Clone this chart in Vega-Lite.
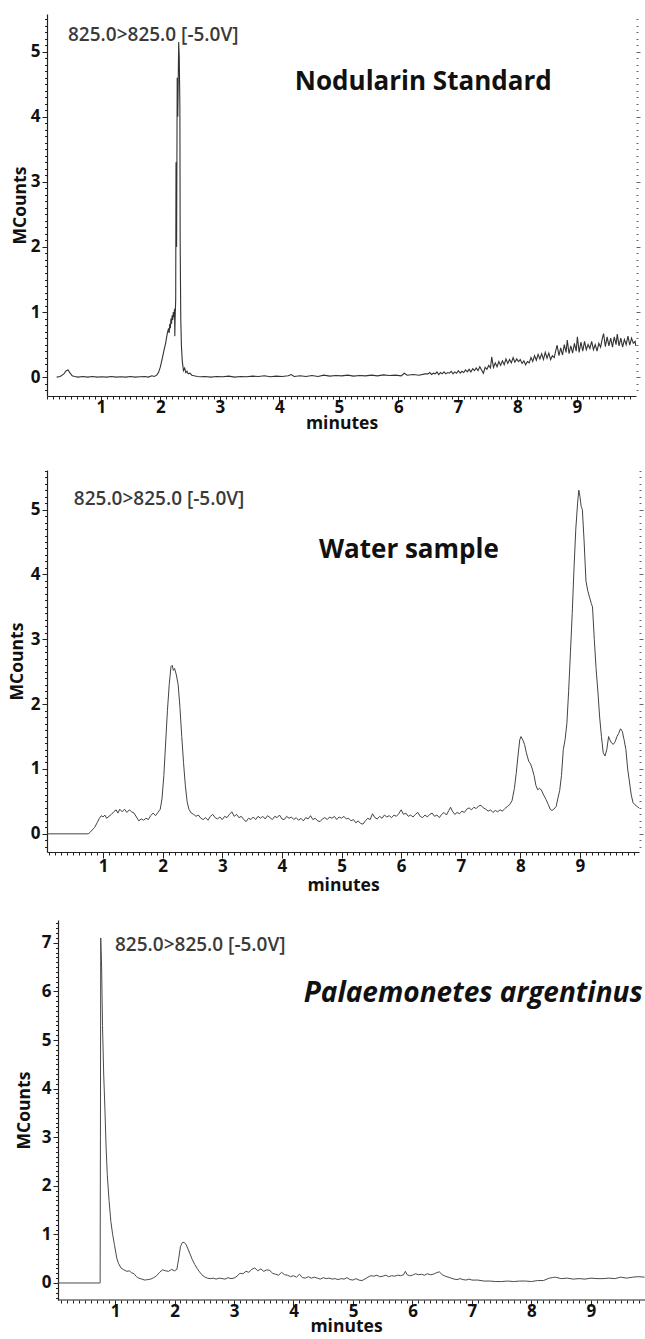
{
"$schema": "https://vega.github.io/schema/vega-lite/v6.json",
"padding": {"left": 8, "top": 10, "right": 0, "bottom": 0},
"background": "white",
"datasets": {
"nod": [
{"t":0.26,"v":0},{"t":0.32,"v":0.01},{"t":0.38,"v":0.05},{"t":0.42,"v":0.1},{"t":0.45,"v":0.11},{"t":0.48,"v":0.07},{"t":0.52,"v":0.02},{"t":0.56,"v":0.01},{"t":0.62,"v":0},{"t":0.7,"v":0.01},{"t":0.78,"v":0},{"t":0.86,"v":0.01},{"t":0.94,"v":0},{"t":1.02,"v":0.005},{"t":1.1,"v":0},{"t":1.18,"v":0.01},{"t":1.26,"v":0},{"t":1.34,"v":0.005},{"t":1.42,"v":0},{"t":1.5,"v":0.01},{"t":1.58,"v":0},{"t":1.66,"v":0.005},{"t":1.74,"v":0.01},{"t":1.8,"v":0},{"t":1.86,"v":0.02},{"t":1.9,"v":0.01},{"t":1.94,"v":0.03},{"t":1.97,"v":0.07},{"t":2.0,"v":0.15},{"t":2.03,"v":0.27},{"t":2.06,"v":0.4},{"t":2.09,"v":0.52},{"t":2.12,"v":0.68},{"t":2.14,"v":0.75},{"t":2.15,"v":0.68},{"t":2.16,"v":0.82},{"t":2.17,"v":0.75},{"t":2.18,"v":0.9},{"t":2.19,"v":0.82},{"t":2.2,"v":0.95},{"t":2.21,"v":0.88},{"t":2.22,"v":1.0},{"t":2.23,"v":0.92},{"t":2.24,"v":1.05},{"t":2.245,"v":0.63},{"t":2.25,"v":0.9},{"t":2.26,"v":1.2},{"t":2.265,"v":3.3},{"t":2.275,"v":2.0},{"t":2.285,"v":4.6},{"t":2.295,"v":4.0},{"t":2.31,"v":5.15},{"t":2.32,"v":4.9},{"t":2.33,"v":4.15},{"t":2.335,"v":2.05},{"t":2.345,"v":0.9},{"t":2.355,"v":0.5},{"t":2.37,"v":0.25},{"t":2.39,"v":0.1},{"t":2.41,"v":0.14},{"t":2.43,"v":0.07},{"t":2.45,"v":0.09},{"t":2.47,"v":0.05},{"t":2.5,"v":0.06},{"t":2.53,"v":0.03},{"t":2.57,"v":0.02},{"t":2.62,"v":0.01},{"t":2.68,"v":0.005},
{"t":2.75,"v":0.01},{"t":2.85,"v":0},{"t":2.95,"v":0.01},{"t":3.05,"v":0.005},{"t":3.15,"v":0.015},{"t":3.25,"v":0},{"t":3.35,"v":0.01},{"t":3.45,"v":0.005},{"t":3.55,"v":0.015},{"t":3.65,"v":0.01},{"t":3.75,"v":0.02},{"t":3.85,"v":0.005},{"t":3.95,"v":0.015},{"t":4.05,"v":0.01},{"t":4.15,"v":0.02},{"t":4.2,"v":0.04},{"t":4.25,"v":0.01},{"t":4.35,"v":0.02},{"t":4.45,"v":0.01},{"t":4.55,"v":0.025},{"t":4.65,"v":0.01},{"t":4.75,"v":0.03},{"t":4.85,"v":0.015},{"t":4.95,"v":0.025},{"t":5.05,"v":0.02},{"t":5.15,"v":0.03},{"t":5.25,"v":0.015},{"t":5.35,"v":0.025},{"t":5.45,"v":0.02},{"t":5.55,"v":0.03},{"t":5.65,"v":0.02},{"t":5.75,"v":0.035},{"t":5.85,"v":0.025},{"t":5.95,"v":0.03},{"t":6.05,"v":0.02},{"t":6.1,"v":0.06},{"t":6.15,"v":0.03},{"t":6.25,"v":0.04},{"t":6.35,"v":0.03},{"t":6.45,"v":0.05},
{"t":6.5,"v":0.05},{"t":6.53,"v":0.07},{"t":6.56,"v":0.04},{"t":6.59,"v":0.06},{"t":6.62,"v":0.05},{"t":6.65,"v":0.08},{"t":6.68,"v":0.04},{"t":6.71,"v":0.07},{"t":6.74,"v":0.05},{"t":6.77,"v":0.08},{"t":6.8,"v":0.05},{"t":6.83,"v":0.07},{"t":6.86,"v":0.06},{"t":6.89,"v":0.09},{"t":6.92,"v":0.05},{"t":6.95,"v":0.08},{"t":6.98,"v":0.06},{"t":7.01,"v":0.1},{"t":7.04,"v":0.06},{"t":7.07,"v":0.09},{"t":7.1,"v":0.07},{"t":7.13,"v":0.11},{"t":7.16,"v":0.08},{"t":7.19,"v":0.12},{"t":7.22,"v":0.08},{"t":7.25,"v":0.13},{"t":7.28,"v":0.1},{"t":7.31,"v":0.14},{"t":7.34,"v":0.1},{"t":7.37,"v":0.16},{"t":7.4,"v":0.11},{"t":7.43,"v":0.06},{"t":7.46,"v":0.15},{"t":7.49,"v":0.12},{"t":7.52,"v":0.18},{"t":7.55,"v":0.14},{"t":7.57,"v":0.31},{"t":7.6,"v":0.15},{"t":7.63,"v":0.22},{"t":7.66,"v":0.16},{"t":7.69,"v":0.24},{"t":7.72,"v":0.18},{"t":7.75,"v":0.25},{"t":7.78,"v":0.19},{"t":7.81,"v":0.28},{"t":7.84,"v":0.21},{"t":7.87,"v":0.27},{"t":7.9,"v":0.22},{"t":7.93,"v":0.3},{"t":7.96,"v":0.23},{"t":7.99,"v":0.28},{"t":8.02,"v":0.24},{"t":8.05,"v":0.27},{"t":8.08,"v":0.21},{"t":8.11,"v":0.25},{"t":8.14,"v":0.19},{"t":8.17,"v":0.24},{"t":8.2,"v":0.22},{"t":8.23,"v":0.3},{"t":8.26,"v":0.24},{"t":8.29,"v":0.33},{"t":8.32,"v":0.26},{"t":8.35,"v":0.35},{"t":8.38,"v":0.28},{"t":8.41,"v":0.36},{"t":8.44,"v":0.27},{"t":8.47,"v":0.38},{"t":8.5,"v":0.29},{"t":8.53,"v":0.37},{"t":8.56,"v":0.27},{"t":8.59,"v":0.33},{"t":8.62,"v":0.3},{"t":8.65,"v":0.42},{"t":8.67,"v":0.49},{"t":8.7,"v":0.33},{"t":8.73,"v":0.45},{"t":8.76,"v":0.34},{"t":8.79,"v":0.5},{"t":8.82,"v":0.38},{"t":8.84,"v":0.57},{"t":8.87,"v":0.36},{"t":8.9,"v":0.48},{"t":8.93,"v":0.37},{"t":8.96,"v":0.52},{"t":8.99,"v":0.4},{"t":9.01,"v":0.62},{"t":9.04,"v":0.38},{"t":9.07,"v":0.54},{"t":9.1,"v":0.4},{"t":9.13,"v":0.55},{"t":9.16,"v":0.42},{"t":9.19,"v":0.5},{"t":9.22,"v":0.44},{"t":9.25,"v":0.55},{"t":9.28,"v":0.42},{"t":9.31,"v":0.5},{"t":9.34,"v":0.4},{"t":9.37,"v":0.52},{"t":9.4,"v":0.46},{"t":9.43,"v":0.6},{"t":9.45,"v":0.67},{"t":9.48,"v":0.47},{"t":9.51,"v":0.62},{"t":9.54,"v":0.48},{"t":9.57,"v":0.6},{"t":9.6,"v":0.46},{"t":9.63,"v":0.62},{"t":9.66,"v":0.5},{"t":9.68,"v":0.66},{"t":9.71,"v":0.48},{"t":9.74,"v":0.6},{"t":9.77,"v":0.46},{"t":9.8,"v":0.58},{"t":9.83,"v":0.5},{"t":9.86,"v":0.63},{"t":9.89,"v":0.49},{"t":9.92,"v":0.6},{"t":9.95,"v":0.52},{"t":9.98,"v":0.55},{"t":9.99,"v":0.48}
],
"water": [
{"t":0.07,"v":0},{"t":0.75,"v":0},{"t":0.78,"v":0.02},{"t":0.82,"v":0.06},{"t":0.86,"v":0.1},{"t":0.9,"v":0.17},{"t":0.94,"v":0.24},{"t":0.97,"v":0.28},{"t":1.0,"v":0.26},{"t":1.03,"v":0.29},{"t":1.06,"v":0.24},{"t":1.1,"v":0.27},{"t":1.14,"v":0.3},{"t":1.18,"v":0.34},{"t":1.22,"v":0.37},{"t":1.25,"v":0.32},{"t":1.28,"v":0.38},{"t":1.32,"v":0.34},{"t":1.36,"v":0.38},{"t":1.4,"v":0.33},{"t":1.44,"v":0.37},{"t":1.48,"v":0.34},{"t":1.52,"v":0.32},{"t":1.56,"v":0.26},{"t":1.6,"v":0.2},{"t":1.64,"v":0.23},{"t":1.68,"v":0.21},{"t":1.72,"v":0.24},{"t":1.76,"v":0.22},{"t":1.8,"v":0.28},{"t":1.84,"v":0.32},{"t":1.88,"v":0.28},{"t":1.92,"v":0.33},{"t":1.96,"v":0.38},{"t":1.99,"v":0.55},{"t":2.02,"v":0.9},{"t":2.05,"v":1.4},{"t":2.08,"v":1.9},{"t":2.11,"v":2.3},{"t":2.14,"v":2.58},{"t":2.16,"v":2.6},{"t":2.18,"v":2.52},{"t":2.2,"v":2.55},{"t":2.23,"v":2.45},{"t":2.26,"v":2.3},{"t":2.29,"v":1.95},{"t":2.32,"v":1.5},{"t":2.35,"v":1.1},{"t":2.38,"v":0.75},{"t":2.41,"v":0.5},{"t":2.44,"v":0.38},{"t":2.48,"v":0.32},{"t":2.52,"v":0.3},{"t":2.56,"v":0.27},{"t":2.6,"v":0.29},{"t":2.64,"v":0.24},{"t":2.68,"v":0.22},{"t":2.72,"v":0.25},{"t":2.76,"v":0.21},{"t":2.8,"v":0.27},{"t":2.84,"v":0.3},{"t":2.88,"v":0.25},{"t":2.92,"v":0.23},{"t":2.96,"v":0.26},{"t":3.0,"v":0.22},{"t":3.04,"v":0.27},{"t":3.08,"v":0.25},{"t":3.12,"v":0.3},{"t":3.16,"v":0.34},{"t":3.2,"v":0.27},{"t":3.24,"v":0.3},{"t":3.28,"v":0.25},{"t":3.32,"v":0.27},{"t":3.36,"v":0.22},{"t":3.4,"v":0.19},{"t":3.44,"v":0.24},{"t":3.48,"v":0.22},{"t":3.52,"v":0.26},{"t":3.56,"v":0.22},{"t":3.6,"v":0.27},{"t":3.64,"v":0.24},{"t":3.68,"v":0.27},{"t":3.72,"v":0.23},{"t":3.76,"v":0.28},{"t":3.8,"v":0.25},{"t":3.84,"v":0.22},{"t":3.88,"v":0.27},{"t":3.92,"v":0.25},{"t":3.96,"v":0.29},{"t":4.0,"v":0.23},{"t":4.04,"v":0.22},{"t":4.08,"v":0.27},{"t":4.12,"v":0.24},{"t":4.16,"v":0.26},{"t":4.2,"v":0.22},{"t":4.24,"v":0.25},{"t":4.28,"v":0.21},{"t":4.32,"v":0.24},{"t":4.36,"v":0.2},{"t":4.4,"v":0.25},{"t":4.44,"v":0.23},{"t":4.48,"v":0.28},{"t":4.52,"v":0.22},{"t":4.56,"v":0.24},{"t":4.6,"v":0.2},{"t":4.64,"v":0.19},{"t":4.68,"v":0.23},{"t":4.72,"v":0.25},{"t":4.76,"v":0.22},{"t":4.8,"v":0.26},{"t":4.84,"v":0.24},{"t":4.88,"v":0.27},{"t":4.92,"v":0.22},{"t":4.96,"v":0.26},{"t":5.0,"v":0.24},{"t":5.04,"v":0.27},{"t":5.08,"v":0.23},{"t":5.12,"v":0.24},{"t":5.16,"v":0.2},{"t":5.2,"v":0.22},{"t":5.24,"v":0.17},{"t":5.28,"v":0.2},{"t":5.32,"v":0.16},{"t":5.36,"v":0.15},{"t":5.4,"v":0.2},{"t":5.44,"v":0.24},{"t":5.48,"v":0.22},{"t":5.52,"v":0.31},{"t":5.56,"v":0.25},{"t":5.6,"v":0.23},{"t":5.64,"v":0.27},{"t":5.68,"v":0.24},{"t":5.72,"v":0.29},{"t":5.76,"v":0.26},{"t":5.8,"v":0.28},{"t":5.84,"v":0.25},{"t":5.88,"v":0.29},{"t":5.92,"v":0.27},{"t":5.96,"v":0.31},{"t":6.0,"v":0.37},{"t":6.04,"v":0.3},{"t":6.08,"v":0.32},{"t":6.12,"v":0.27},{"t":6.16,"v":0.29},{"t":6.2,"v":0.26},{"t":6.24,"v":0.3},{"t":6.28,"v":0.33},{"t":6.32,"v":0.27},{"t":6.36,"v":0.25},{"t":6.4,"v":0.29},{"t":6.44,"v":0.26},{"t":6.48,"v":0.3},{"t":6.52,"v":0.32},{"t":6.56,"v":0.27},{"t":6.6,"v":0.29},{"t":6.64,"v":0.25},{"t":6.68,"v":0.3},{"t":6.72,"v":0.33},{"t":6.76,"v":0.29},{"t":6.8,"v":0.36},{"t":6.83,"v":0.41},{"t":6.86,"v":0.35},{"t":6.9,"v":0.3},{"t":6.94,"v":0.33},{"t":6.98,"v":0.31},{"t":7.02,"v":0.35},{"t":7.06,"v":0.33},{"t":7.1,"v":0.38},{"t":7.14,"v":0.4},{"t":7.18,"v":0.37},{"t":7.22,"v":0.41},{"t":7.26,"v":0.39},{"t":7.3,"v":0.43},{"t":7.34,"v":0.44},{"t":7.38,"v":0.4},{"t":7.42,"v":0.38},{"t":7.46,"v":0.35},{"t":7.5,"v":0.37},{"t":7.54,"v":0.33},{"t":7.58,"v":0.36},{"t":7.62,"v":0.34},{"t":7.66,"v":0.37},{"t":7.7,"v":0.35},{"t":7.74,"v":0.39},{"t":7.78,"v":0.42},{"t":7.82,"v":0.45},{"t":7.86,"v":0.51},{"t":7.9,"v":0.7},{"t":7.93,"v":0.93},{"t":7.96,"v":1.2},{"t":7.99,"v":1.45},{"t":8.01,"v":1.5},{"t":8.04,"v":1.45},{"t":8.07,"v":1.38},{"t":8.1,"v":1.25},{"t":8.14,"v":1.12},{"t":8.17,"v":1.08},{"t":8.2,"v":1.0},{"t":8.23,"v":0.9},{"t":8.26,"v":0.75},{"t":8.29,"v":0.68},{"t":8.32,"v":0.7},{"t":8.35,"v":0.68},{"t":8.39,"v":0.6},{"t":8.43,"v":0.53},{"t":8.47,"v":0.45},{"t":8.5,"v":0.38},{"t":8.53,"v":0.36},{"t":8.56,"v":0.38},{"t":8.6,"v":0.42},{"t":8.63,"v":0.55},{"t":8.66,"v":0.67},{"t":8.69,"v":0.9},{"t":8.72,"v":1.3},{"t":8.75,"v":1.45},{"t":8.78,"v":1.7},{"t":8.81,"v":2.2},{"t":8.84,"v":2.8},{"t":8.87,"v":3.4},{"t":8.9,"v":4.1},{"t":8.93,"v":4.7},{"t":8.96,"v":5.1},{"t":8.98,"v":5.3},{"t":9.0,"v":5.2},{"t":9.02,"v":5.05},{"t":9.04,"v":5.0},{"t":9.07,"v":4.5},{"t":9.1,"v":3.9},{"t":9.13,"v":3.75},{"t":9.16,"v":3.65},{"t":9.19,"v":3.55},{"t":9.21,"v":3.5},{"t":9.24,"v":3.0},{"t":9.27,"v":2.55},{"t":9.3,"v":2.2},{"t":9.33,"v":1.8},{"t":9.36,"v":1.5},{"t":9.39,"v":1.25},{"t":9.42,"v":1.2},{"t":9.45,"v":1.3},{"t":9.48,"v":1.5},{"t":9.5,"v":1.45},{"t":9.53,"v":1.4},{"t":9.56,"v":1.38},{"t":9.59,"v":1.42},{"t":9.62,"v":1.5},{"t":9.65,"v":1.55},{"t":9.68,"v":1.62},{"t":9.71,"v":1.58},{"t":9.74,"v":1.45},{"t":9.77,"v":1.3},{"t":9.8,"v":1.0},{"t":9.83,"v":0.8},{"t":9.86,"v":0.6},{"t":9.89,"v":0.48},{"t":9.92,"v":0.45},{"t":9.96,"v":0.42},{"t":9.99,"v":0.4}
],
"pal": [
{"t":0.04,"v":0},{"t":0.74,"v":0},{"t":0.75,"v":0},{"t":0.755,"v":3.0},{"t":0.76,"v":7.1},{"t":0.775,"v":6.5},{"t":0.79,"v":5.3},{"t":0.81,"v":4.3},{"t":0.83,"v":3.6},{"t":0.85,"v":2.8},{"t":0.87,"v":2.23},{"t":0.9,"v":1.7},{"t":0.93,"v":1.27},{"t":0.96,"v":1.0},{"t":0.99,"v":0.79},{"t":1.03,"v":0.51},{"t":1.06,"v":0.4},{"t":1.1,"v":0.31},{"t":1.15,"v":0.27},{"t":1.2,"v":0.24},{"t":1.24,"v":0.25},{"t":1.28,"v":0.21},{"t":1.32,"v":0.19},{"t":1.36,"v":0.13},{"t":1.4,"v":0.1},{"t":1.45,"v":0.08},{"t":1.5,"v":0.06},{"t":1.55,"v":0.07},{"t":1.6,"v":0.08},{"t":1.65,"v":0.11},{"t":1.7,"v":0.15},{"t":1.75,"v":0.22},{"t":1.8,"v":0.27},{"t":1.85,"v":0.25},{"t":1.9,"v":0.24},{"t":1.95,"v":0.28},{"t":2.0,"v":0.25},{"t":2.04,"v":0.28},{"t":2.07,"v":0.5},{"t":2.1,"v":0.75},{"t":2.13,"v":0.83},{"t":2.16,"v":0.84},{"t":2.19,"v":0.8},{"t":2.22,"v":0.72},{"t":2.26,"v":0.6},{"t":2.3,"v":0.48},{"t":2.34,"v":0.38},{"t":2.38,"v":0.3},{"t":2.42,"v":0.23},{"t":2.46,"v":0.17},{"t":2.5,"v":0.13},{"t":2.55,"v":0.1},{"t":2.6,"v":0.09},{"t":2.65,"v":0.1},{"t":2.7,"v":0.08},{"t":2.75,"v":0.1},{"t":2.8,"v":0.09},{"t":2.85,"v":0.08},{"t":2.9,"v":0.11},{"t":2.95,"v":0.09},{"t":3.0,"v":0.1},{"t":3.05,"v":0.14},{"t":3.1,"v":0.2},{"t":3.15,"v":0.19},{"t":3.2,"v":0.24},{"t":3.25,"v":0.22},{"t":3.3,"v":0.28},{"t":3.35,"v":0.31},{"t":3.4,"v":0.25},{"t":3.45,"v":0.29},{"t":3.5,"v":0.24},{"t":3.55,"v":0.27},{"t":3.6,"v":0.26},{"t":3.65,"v":0.2},{"t":3.7,"v":0.18},{"t":3.75,"v":0.16},{"t":3.8,"v":0.22},{"t":3.85,"v":0.17},{"t":3.9,"v":0.16},{"t":3.95,"v":0.13},{"t":4.0,"v":0.15},{"t":4.05,"v":0.12},{"t":4.1,"v":0.18},{"t":4.15,"v":0.11},{"t":4.2,"v":0.1},{"t":4.25,"v":0.13},{"t":4.3,"v":0.1},{"t":4.35,"v":0.12},{"t":4.4,"v":0.1},{"t":4.45,"v":0.08},{"t":4.5,"v":0.11},{"t":4.55,"v":0.09},{"t":4.6,"v":0.1},{"t":4.65,"v":0.08},{"t":4.7,"v":0.09},{"t":4.75,"v":0.07},{"t":4.8,"v":0.09},{"t":4.85,"v":0.08},{"t":4.9,"v":0.11},{"t":4.95,"v":0.07},{"t":5.0,"v":0.06},{"t":5.05,"v":0.09},{"t":5.1,"v":0.06},{"t":5.15,"v":0.05},{"t":5.2,"v":0.08},{"t":5.25,"v":0.12},{"t":5.3,"v":0.15},{"t":5.35,"v":0.14},{"t":5.4,"v":0.16},{"t":5.45,"v":0.13},{"t":5.5,"v":0.14},{"t":5.55,"v":0.16},{"t":5.6,"v":0.13},{"t":5.65,"v":0.15},{"t":5.7,"v":0.14},{"t":5.75,"v":0.16},{"t":5.8,"v":0.15},{"t":5.85,"v":0.17},{"t":5.88,"v":0.24},{"t":5.91,"v":0.17},{"t":5.95,"v":0.15},{"t":6.0,"v":0.16},{"t":6.05,"v":0.19},{"t":6.1,"v":0.17},{"t":6.15,"v":0.18},{"t":6.2,"v":0.16},{"t":6.25,"v":0.19},{"t":6.3,"v":0.17},{"t":6.35,"v":0.18},{"t":6.4,"v":0.21},{"t":6.45,"v":0.23},{"t":6.5,"v":0.17},{"t":6.55,"v":0.14},{"t":6.6,"v":0.12},{"t":6.65,"v":0.1},{"t":6.7,"v":0.08},{"t":6.75,"v":0.07},{"t":6.8,"v":0.09},{"t":6.85,"v":0.07},{"t":6.9,"v":0.06},{"t":6.95,"v":0.08},{"t":7.0,"v":0.06},{"t":7.1,"v":0.06},{"t":7.2,"v":0.04},{"t":7.3,"v":0.04},{"t":7.4,"v":0.03},{"t":7.5,"v":0.03},{"t":7.6,"v":0.04},{"t":7.7,"v":0.03},{"t":7.8,"v":0.04},{"t":7.9,"v":0.04},{"t":8.0,"v":0.03},{"t":8.1,"v":0.05},{"t":8.2,"v":0.05},{"t":8.3,"v":0.1},{"t":8.35,"v":0.11},{"t":8.4,"v":0.12},{"t":8.5,"v":0.09},{"t":8.6,"v":0.1},{"t":8.7,"v":0.08},{"t":8.8,"v":0.09},{"t":8.9,"v":0.08},{"t":9.0,"v":0.1},{"t":9.1,"v":0.09},{"t":9.2,"v":0.09},{"t":9.3,"v":0.1},{"t":9.4,"v":0.09},{"t":9.5,"v":0.12},{"t":9.6,"v":0.1},{"t":9.7,"v":0.12},{"t":9.8,"v":0.13},{"t":9.9,"v":0.12}
]
},
"concat": [
{
"width": 589, "height": 382,
"layer": [
{"data": {"name": "nod"},
 "mark": {"type": "line", "color": "#333333", "strokeWidth": 1.1},
 "encoding": {
  "x": {"field": "t", "type": "quantitative", "scale": {"domain": [0.097, 9.995], "nice": false, "zero": false},
   "axis": {"title": "minutes", "tickCount": 100, "labelExpr": "abs(datum.value - round(datum.value)) < 0.001 ? format(datum.value, 'd') : ''", "tickSize": {"condition": {"test": "abs(datum.value - round(datum.value)) < 0.001", "value": 6}, "value": 3}, "labelOverlap": false, "labelFlush": false, "labelPadding": -3, "titlePadding": -1}},
  "y": {"field": "v", "type": "quantitative", "scale": {"domain": [-0.29, 5.58], "nice": false, "zero": false},
   "axis": {"title": "MCounts", "tickCount": 58, "labelExpr": "abs(datum.value - round(datum.value)) < 0.001 ? format(datum.value, 'd') : ''", "tickSize": {"condition": {"test": "abs(datum.value - round(datum.value)) < 0.001", "value": 5}, "value": 2.5}, "labelOverlap": false, "labelFlush": false, "labelPadding": 2, "titlePadding": 1}}
 }},
{"data": {"values": [{}]},
 "mark": {"type": "text", "align": "left", "baseline": "middle", "font": "Open Sans", "fontSize": 19, "fontWeight": 600, "color": "#3a3a3a"},
 "encoding": {
  "x": {"datum": 0.45, "type": "quantitative"},
  "y": {"datum": 5.25, "type": "quantitative", "axis": {"orient": "right", "domain": false, "labels": false, "title": null, "tickCount": 58, "tickColor": "#666", "tickSize": {"condition": {"test": "abs(datum.value - round(datum.value)) < 0.001", "value": 4}, "value": 2}}},
  "text": {"value": "825.0>825.0 [-5.0V]"}
 }},
{"data": {"values": [{}]},
 "mark": {"type": "text", "align": "center", "baseline": "middle", "font": "Open Sans", "fontSize": 26, "fontWeight": "bold", "color": "#111"},
 "encoding": {
  "x": {"datum": 6.42, "type": "quantitative"},
  "y": {"datum": 4.54, "type": "quantitative", "axis": null},
  "text": {"value": "Nodularin Standard"}
 }}
],
"resolve": {"axis": {"y": "independent"}}
},
{
"concat": [
{
"width": 592, "height": 382,
"layer": [
{"data": {"name": "water"},
 "mark": {"type": "line", "color": "#444444", "strokeWidth": 1},
 "encoding": {
  "x": {"field": "t", "type": "quantitative", "scale": {"domain": [0.06, 9.99], "nice": false, "zero": false},
   "axis": {"title": "minutes", "tickCount": 100, "labelExpr": "abs(datum.value - round(datum.value)) < 0.001 ? format(datum.value, 'd') : ''", "tickSize": {"condition": {"test": "abs(datum.value - round(datum.value)) < 0.001", "value": 6}, "value": 3}, "labelOverlap": false, "labelFlush": false, "labelPadding": 0, "titlePadding": 2}},
  "y": {"field": "v", "type": "quantitative", "scale": {"domain": [-0.28, 5.61], "nice": false, "zero": false},
   "axis": {"title": "MCounts", "tickCount": 58, "labelExpr": "abs(datum.value - round(datum.value)) < 0.001 ? format(datum.value, 'd') : ''", "tickSize": {"condition": {"test": "abs(datum.value - round(datum.value)) < 0.001", "value": 5}, "value": 2.5}, "labelOverlap": false, "labelFlush": false, "labelPadding": 2, "titlePadding": 4}}
 }},
{"data": {"values": [{}]},
 "mark": {"type": "text", "align": "left", "baseline": "middle", "font": "Open Sans", "fontSize": 19, "fontWeight": 600, "color": "#3a3a3a"},
 "encoding": {
  "x": {"datum": 0.51, "type": "quantitative"},
  "y": {"datum": 5.17, "type": "quantitative", "axis": {"orient": "right", "domain": false, "labels": false, "title": null, "tickCount": 58, "tickColor": "#666", "tickSize": {"condition": {"test": "abs(datum.value - round(datum.value)) < 0.001", "value": 4}, "value": 2}}},
  "text": {"value": "825.0>825.0 [-5.0V]"}
 }},
{"data": {"values": [{}]},
 "mark": {"type": "text", "align": "center", "baseline": "middle", "font": "Open Sans", "fontSize": 26, "fontWeight": "bold", "color": "#111"},
 "encoding": {
  "x": {"datum": 6.13, "type": "quantitative"},
  "y": {"datum": 4.37, "type": "quantitative", "axis": null},
  "text": {"value": "Water sample"}
 }}
],
"resolve": {"axis": {"y": "independent"}}
},
{
"width": 598, "height": 380,
"layer": [
{"data": {"name": "pal"},
 "mark": {"type": "line", "color": "#4a4a4a", "strokeWidth": 1},
 "encoding": {
  "x": {"field": "t", "type": "quantitative", "scale": {"domain": [-0.143, 9.908], "nice": false, "zero": false},
   "axis": {"title": "minutes", "domain": false, "tickCount": 100, "labelExpr": "datum.value > 0.5 && abs(datum.value - round(datum.value)) < 0.001 ? format(datum.value, 'd') : ''", "tickSize": {"condition": {"test": "abs(datum.value - round(datum.value)) < 0.001", "value": 6}, "value": 3}, "tickOpacity": {"condition": {"test": "datum.value < 0.05", "value": 0}, "value": 1}, "labelOverlap": false, "labelFlush": false, "labelPadding": -3, "titlePadding": -2}},
  "y": {"field": "v", "type": "quantitative", "scale": {"domain": [-0.35, 7.47], "nice": false, "zero": false},
   "axis": {"title": "MCounts", "offset": -11, "tickCount": 78, "labelExpr": "abs(datum.value - round(datum.value)) < 0.001 ? format(datum.value, 'd') : ''", "tickSize": {"condition": {"test": "abs(datum.value - round(datum.value)) < 0.001", "value": 5}, "value": 2.5}, "labelOverlap": false, "labelFlush": false, "labelPadding": 2, "titlePadding": 8}}
 }},
{"data": {"values": [{}]},
 "mark": {"type": "rule", "color": "#222", "strokeWidth": 1.2},
 "encoding": {
  "x": {"datum": 0.042, "type": "quantitative"},
  "x2": {"datum": 9.908},
  "y": {"datum": -0.35, "type": "quantitative"}
 }},
{"data": {"values": [{}]},
 "mark": {"type": "text", "align": "left", "baseline": "middle", "font": "Open Sans", "fontSize": 19, "fontWeight": 600, "color": "#3a3a3a"},
 "encoding": {
  "x": {"datum": 1.0, "type": "quantitative"},
  "y": {"datum": 6.95, "type": "quantitative"},
  "text": {"value": "825.0>825.0 [-5.0V]"}
 }},
{"data": {"values": [{}]},
 "mark": {"type": "text", "align": "right", "baseline": "middle", "font": "Open Sans", "fontSize": 28, "fontWeight": "bold", "fontStyle": "italic", "color": "#111"},
 "encoding": {
  "x": {"datum": 9.87, "type": "quantitative"},
  "y": {"datum": 5.95, "type": "quantitative"},
  "text": {"value": "Palaemonetes argentinus"}
 }}
]
}
],
"columns": 1,
"align": "none",
"spacing": 20
}
],
"columns": 1,
"align": "none",
"spacing": 29,
"config": {
 "view": {"stroke": null},
 "axis": {"labelFont": "Open Sans", "labelFontWeight": "bold", "labelFontSize": 17, "labelColor": "#111", "titleFont": "Open Sans", "titleFontWeight": "bold", "titleFontSize": 17.5, "titleColor": "#111", "domainColor": "#222", "tickColor": "#222", "grid": false, "domainWidth": 1.2, "tickWidth": 1}
}
}
